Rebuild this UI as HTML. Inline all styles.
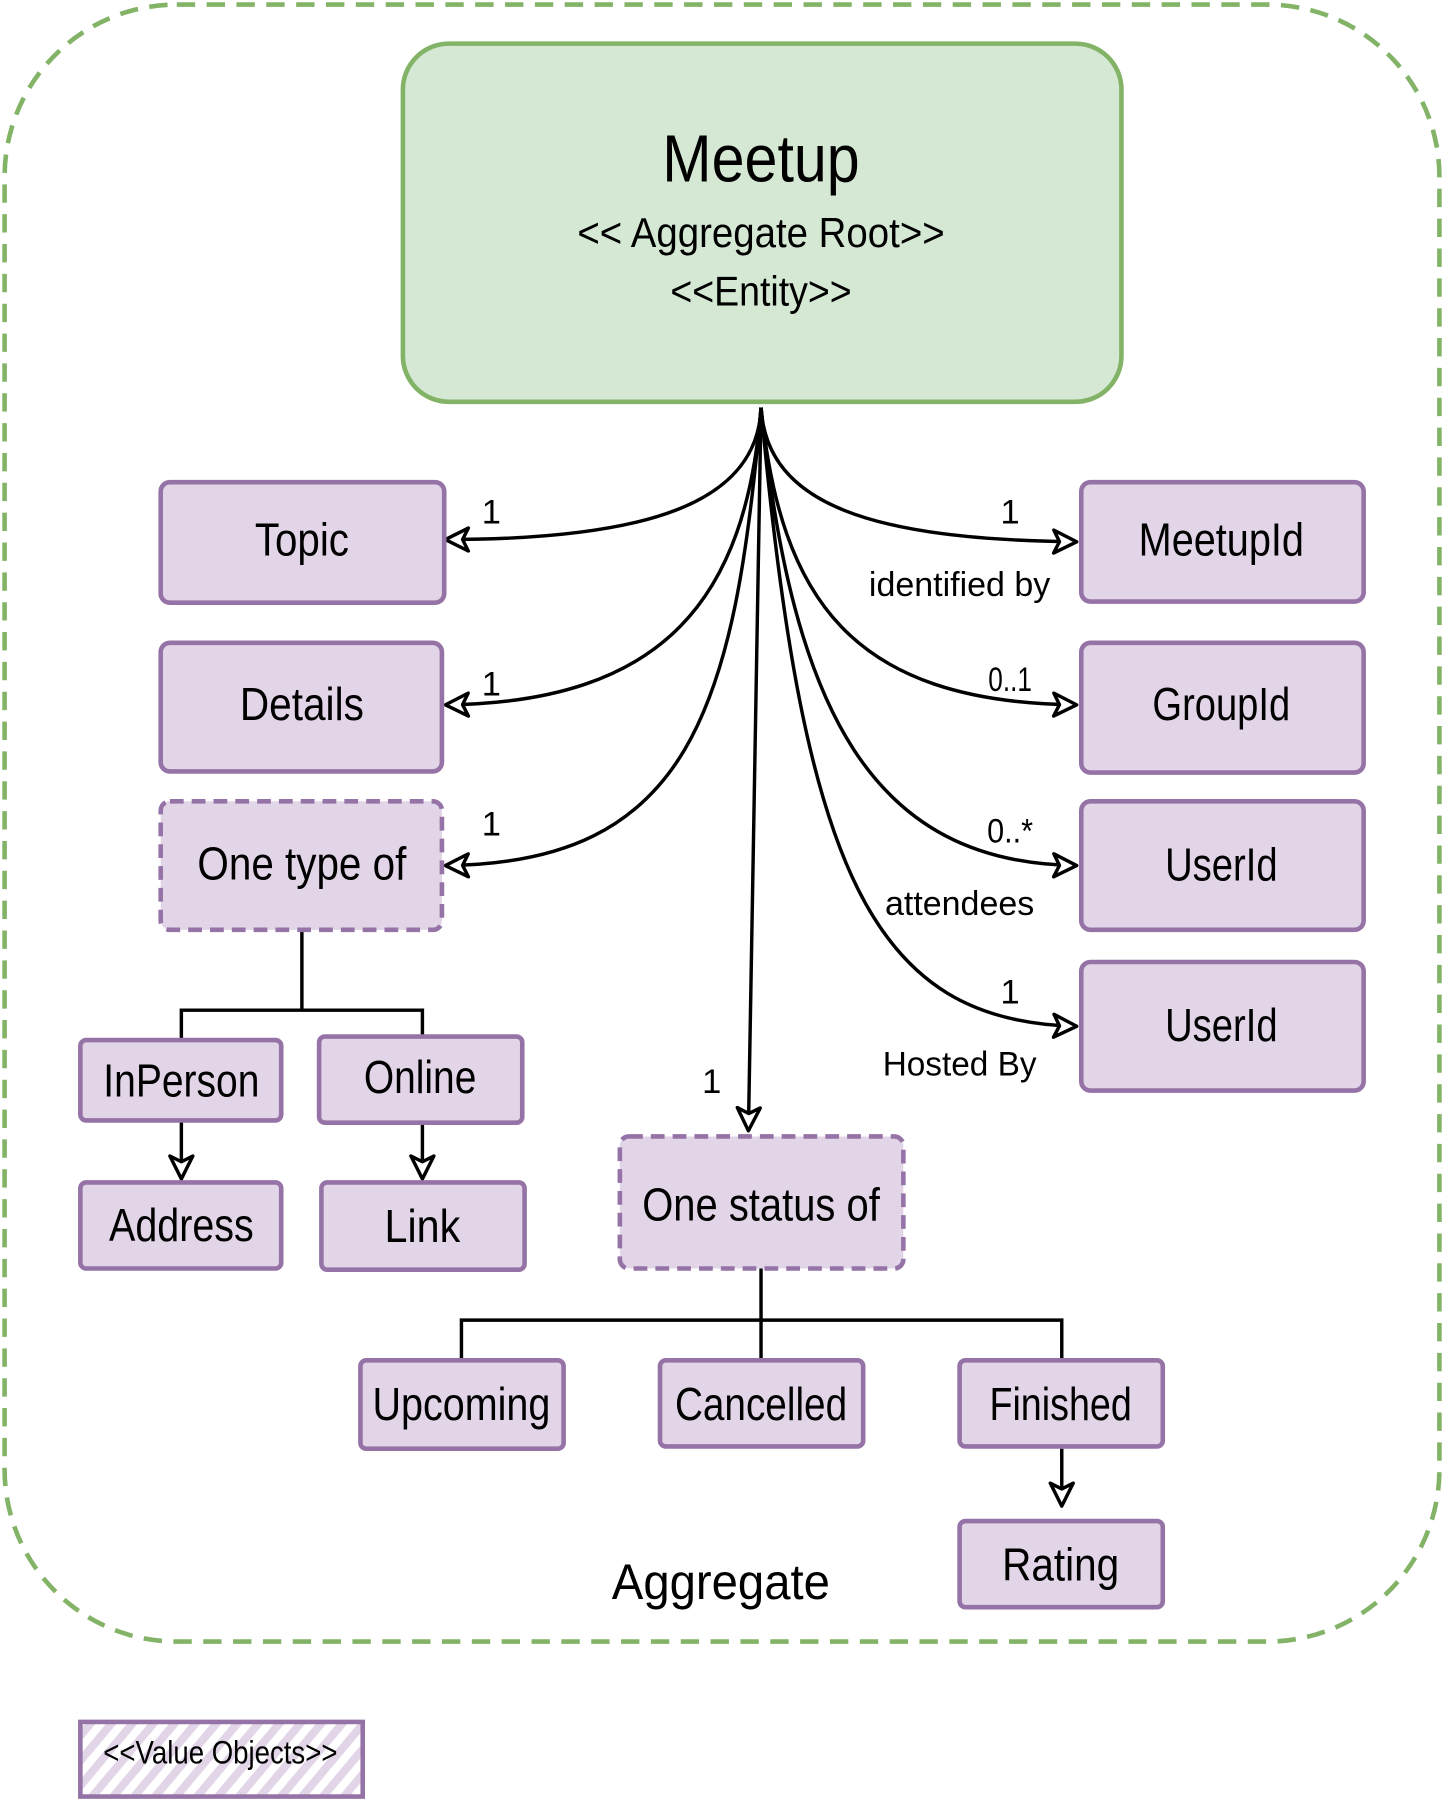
<!DOCTYPE html>
<html><head><meta charset="utf-8"><style>
html,body{margin:0;padding:0;background:#fff;}
svg{display:block;}
text{font-family:"Liberation Sans Narrow","Liberation Sans",sans-serif;fill:#000;text-anchor:middle;}
</style></head><body>
<svg width="1444" height="1800" viewBox="0 0 1258 1568" preserveAspectRatio="none" xmlns="http://www.w3.org/2000/svg">
<defs>
<marker id="ar2" markerWidth="26" markerHeight="26" refX="22" refY="13" orient="auto" markerUnits="userSpaceOnUse">
<path d="M2,3 L22,13 L2,23 L7,13 Z" fill="#fff" stroke="#000" stroke-width="3" stroke-linejoin="round"/>
</marker>
<pattern id="hatch" width="14" height="14" patternUnits="userSpaceOnUse" patternTransform="rotate(40)">
<rect width="14" height="14" fill="#fff"/><rect width="7" height="14" fill="#e1d5e7"/>
</pattern>
</defs>

<rect x="4" y="4" width="1250" height="1426" rx="150" fill="none" stroke="#82b366" stroke-width="4" stroke-dasharray="16 10"/>

<rect x="351" y="38" width="626" height="312" rx="40" fill="#d5e8d4" stroke="#82b366" stroke-width="4"/>
<text x="663" y="158" font-size="58" textLength="172" lengthAdjust="spacingAndGlyphs">Meetup</text>
<text x="663" y="215" font-size="36" textLength="320" lengthAdjust="spacingAndGlyphs">&lt;&lt; Aggregate Root&gt;&gt;</text>
<text x="663" y="266" font-size="36" textLength="158" lengthAdjust="spacingAndGlyphs">&lt;&lt;Entity&gt;&gt;</text>

<g fill="none" stroke="#000" stroke-width="3" marker-end="url(#ar2)">
<path d="M663,355 C660,440 560,470 388,470"/>
<path d="M663,355 C650,520 580,612 388,614"/>
<path d="M663,355 C640,620 600,752 388,754"/>
<path d="M663,355 C668,440 760,470 938,472"/>
<path d="M663,355 C680,520 740,612 938,614"/>
<path d="M663,355 C690,620 760,752 938,754"/>
<path d="M663,355 C700,760 760,890 938,894"/>
<path d="M663,355 L652,985"/>
<path d="M158,976 L158,1027"/>
<path d="M368,978 L368,1027"/>
<path d="M925,1262 L925,1312"/>
</g>
<g fill="none" stroke="#000" stroke-width="3">
<path d="M263,810 L263,880 M158,906 L158,880 L368,880 L368,903"/>
<path d="M663,1105 L663,1185 M402,1185 L402,1150 L925,1150 L925,1185"/>
</g>

<g fill="#e1d5e7" stroke="#9673a6" stroke-width="4">
<rect x="140" y="420" width="247" height="105" rx="8"/>
<rect x="140" y="560" width="245" height="112" rx="8"/>
<rect x="140" y="698" width="245" height="112" rx="8" stroke-dasharray="12 7"/>
<rect x="70" y="906" width="175" height="70" rx="5"/>
<rect x="278" y="903" width="177" height="75" rx="5"/>
<rect x="70" y="1030" width="175" height="75" rx="5"/>
<rect x="280" y="1030" width="177" height="76" rx="5"/>
<rect x="540" y="990" width="247" height="115" rx="8" stroke-dasharray="12 7"/>
<rect x="314" y="1185" width="177" height="77" rx="5"/>
<rect x="575" y="1185" width="177" height="75" rx="5"/>
<rect x="836" y="1185" width="177" height="75" rx="5"/>
<rect x="836" y="1325" width="177" height="75" rx="5"/>
<rect x="942" y="420" width="246" height="104" rx="8"/>
<rect x="942" y="560" width="246" height="113" rx="8"/>
<rect x="942" y="698" width="246" height="112" rx="8"/>
<rect x="942" y="838" width="246" height="112" rx="8"/>
</g>
<rect x="70" y="1500" width="246" height="65" fill="url(#hatch)" stroke="#9673a6" stroke-width="4"/>

<g font-size="40">
<text x="263" y="484" textLength="82" lengthAdjust="spacingAndGlyphs">Topic</text>
<text x="263" y="627" textLength="108" lengthAdjust="spacingAndGlyphs">Details</text>
<text x="263" y="766" textLength="182" lengthAdjust="spacingAndGlyphs">One type of</text>
<text x="158" y="955" textLength="136" lengthAdjust="spacingAndGlyphs">InPerson</text>
<text x="366" y="952" textLength="98" lengthAdjust="spacingAndGlyphs">Online</text>
<text x="158" y="1081" textLength="126" lengthAdjust="spacingAndGlyphs">Address</text>
<text x="368" y="1082" textLength="66" lengthAdjust="spacingAndGlyphs">Link</text>
<text x="663" y="1063" textLength="207" lengthAdjust="spacingAndGlyphs">One status of</text>
<text x="402" y="1237" textLength="155" lengthAdjust="spacingAndGlyphs">Upcoming</text>
<text x="663" y="1237" textLength="150" lengthAdjust="spacingAndGlyphs">Cancelled</text>
<text x="924" y="1237" textLength="124" lengthAdjust="spacingAndGlyphs">Finished</text>
<text x="924" y="1377" textLength="102" lengthAdjust="spacingAndGlyphs">Rating</text>
<text x="1064" y="484" textLength="144" lengthAdjust="spacingAndGlyphs">MeetupId</text>
<text x="1064" y="627" textLength="120" lengthAdjust="spacingAndGlyphs">GroupId</text>
<text x="1064" y="767" textLength="98" lengthAdjust="spacingAndGlyphs">UserId</text>
<text x="1064" y="907" textLength="98" lengthAdjust="spacingAndGlyphs">UserId</text>
<text x="628" y="1393" font-size="44" textLength="190" lengthAdjust="spacingAndGlyphs">Aggregate</text>
</g>
<text x="192" y="1536" font-size="28" textLength="204" lengthAdjust="spacingAndGlyphs">&lt;&lt;Value Objects&gt;&gt;</text>

<g font-size="30">
<text x="428" y="456">1</text>
<text x="428" y="606">1</text>
<text x="428" y="728">1</text>
<text x="880" y="456">1</text>
<text x="880" y="602" textLength="38" lengthAdjust="spacingAndGlyphs">0..1</text>
<text x="880" y="734" textLength="40" lengthAdjust="spacingAndGlyphs">0..*</text>
<text x="880" y="874">1</text>
<text x="620" y="952">1</text>
<text x="836" y="519" textLength="158" lengthAdjust="spacingAndGlyphs">identified by</text>
<text x="836" y="797" textLength="130" lengthAdjust="spacingAndGlyphs">attendees</text>
<text x="836" y="937" textLength="134" lengthAdjust="spacingAndGlyphs">Hosted By</text>
</g>
</svg>
</body></html>
